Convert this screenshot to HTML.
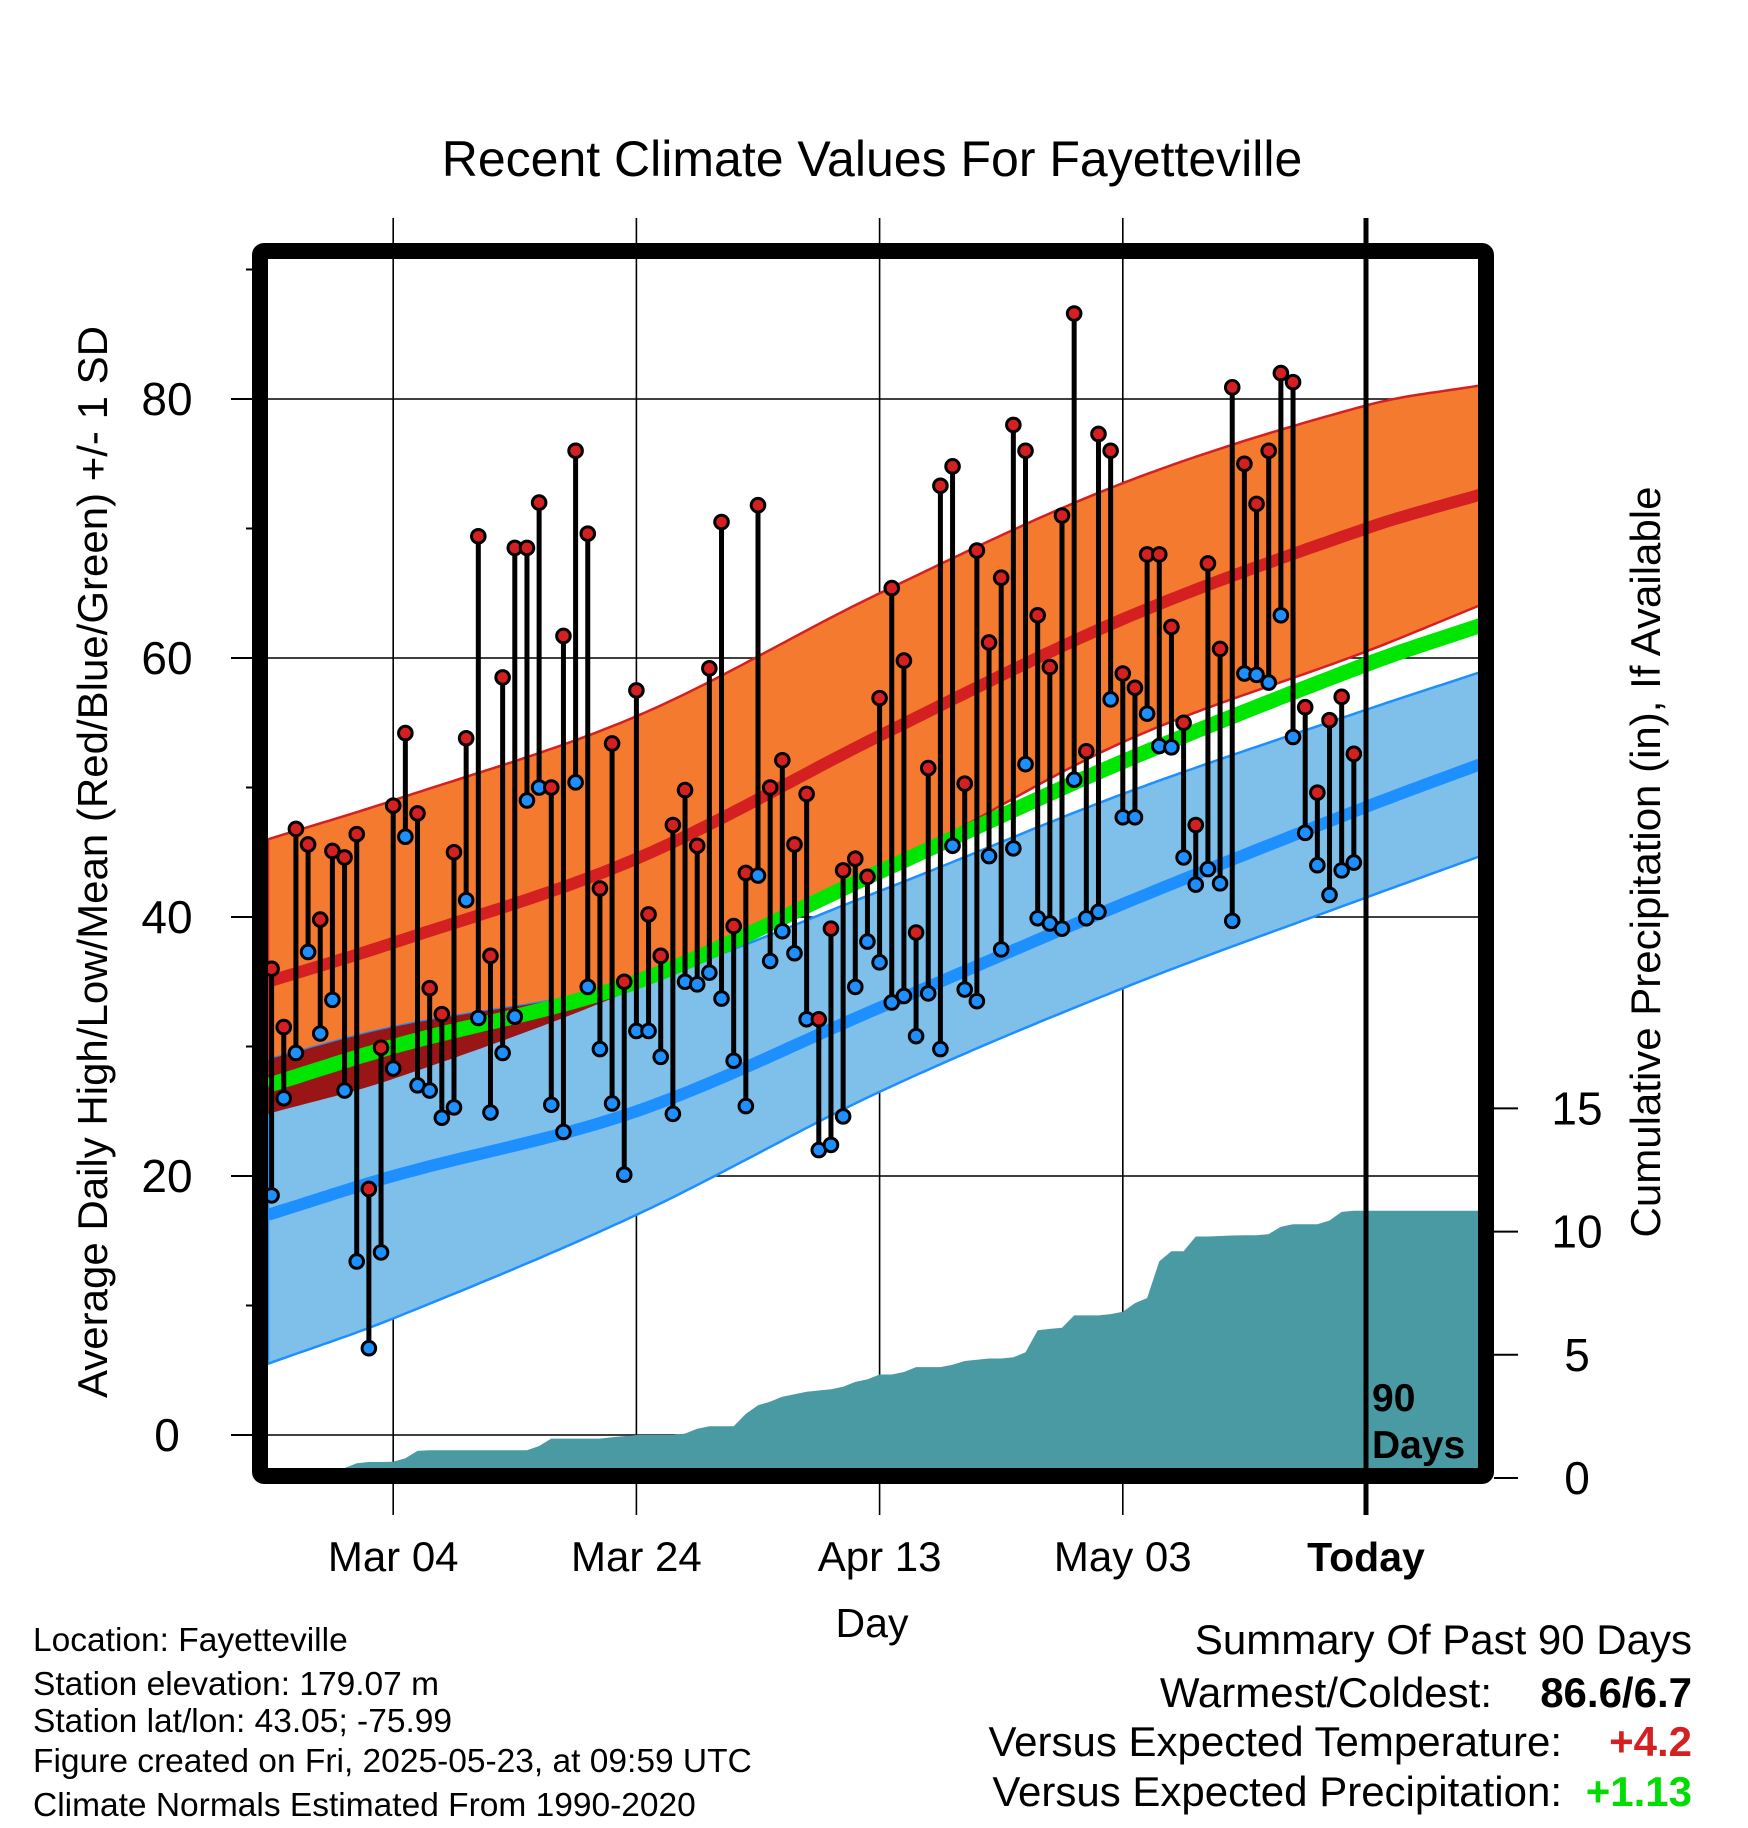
<!DOCTYPE html>
<html><head><meta charset="utf-8"><style>
html,body{margin:0;padding:0;background:#fff}
svg{display:block;font-family:"Liberation Sans",Arial,sans-serif}
</style></head><body>
<svg id="chart" width="1748" height="1828" viewBox="0 0 1748 1828" xmlns="http://www.w3.org/2000/svg">
<defs><clipPath id="plotclip"><rect x="268" y="259" width="1210" height="1209"/></clipPath></defs>
<text x="872" y="176" font-size="50" text-anchor="middle">Recent Climate Values For Fayetteville</text>
<g id="grid"></g>
<g id="bands" clip-path="url(#plotclip)"></g>
<g id="precip" clip-path="url(#plotclip)"></g>
<g id="lines" clip-path="url(#plotclip)"></g>
<g id="obs"></g>
<g id="axes"></g>
<text transform="translate(107,862) rotate(-90)" font-size="42" text-anchor="middle">Average Daily High/Low/Mean (Red/Blue/Green) +/- 1 SD</text>
<text transform="translate(1660,862) rotate(-90)" font-size="42" text-anchor="middle">Cumulative Precipitation (in), If Available</text>
<text x="872" y="1637" font-size="41" text-anchor="middle">Day</text>
<g font-size="33.5">
<text x="33" y="1651">Location: Fayetteville</text>
<text x="33" y="1695">Station elevation: 179.07 m</text>
<text x="33" y="1732">Station lat/lon: 43.05; -75.99</text>
<text x="33" y="1772">Figure created on Fri, 2025-05-23, at 09:59 UTC</text>
<text x="33" y="1816">Climate Normals Estimated From 1990-2020</text>
</g>
<g font-size="42">
<text x="1692" y="1654" text-anchor="end">Summary Of Past 90 Days</text>
<text x="1492" y="1707" text-anchor="end">Warmest/Coldest:</text>
<text x="1692" y="1707" text-anchor="end" font-weight="bold">86.6/6.7</text>
<text x="1562" y="1756" text-anchor="end">Versus Expected Temperature:</text>
<text x="1692" y="1756" text-anchor="end" font-weight="bold" fill="#d42020">+4.2</text>
<text x="1562" y="1806" text-anchor="end">Versus Expected Precipitation:</text>
<text x="1692" y="1806" text-anchor="end" font-weight="bold" fill="#00dd00">+1.13</text>
</g>
</svg>
<script>
const highs=[36,31.5,46.8,45.6,39.8,45.1,44.6,46.4,19,29.9,48.6,54.2,48,34.5,32.5,45,53.8,69.4,37,58.5,68.5,68.5,72,50,61.7,76,69.6,42.2,53.4,35,57.5,40.2,37,47.1,49.8,45.5,59.2,70.5,39.3,43.4,71.8,50,52.1,45.6,49.5,32.1,39.1,43.6,44.5,43.1,56.9,65.4,59.8,38.8,51.5,73.3,74.8,50.3,68.3,61.2,66.2,78,76,63.3,59.3,71,86.6,52.8,77.3,76,58.8,57.7,68,68,62.4,55,47.1,67.3,60.7,80.9,75,71.9,76,82,81.3,56.2,49.6,55.2,57,52.6];
const lows=[18.5,26,29.5,37.3,31,33.6,26.6,13.4,6.7,14.1,28.3,46.2,27,26.6,24.5,25.3,41.3,32.2,24.9,29.5,32.3,49,50,25.5,23.4,50.4,34.6,29.8,25.6,20.1,31.2,31.2,29.2,24.8,35,34.8,35.7,33.7,28.9,25.4,43.2,36.6,38.9,37.2,32.1,22,22.4,24.6,34.6,38.1,36.5,33.4,33.9,30.8,34.1,29.8,45.5,34.4,33.5,44.7,37.5,45.3,51.8,39.9,39.5,39.1,50.6,39.9,40.4,56.8,47.7,47.7,55.7,53.2,53.1,44.6,42.5,43.7,42.6,39.7,58.8,58.7,58.1,63.3,53.9,46.5,44,41.7,43.6,44.2];
const precipCum=[0,0,0,0,0,0.3,0.4,0.6,0.65,0.65,0.66,0.8,1.1,1.13,1.13,1.13,1.13,1.13,1.13,1.13,1.13,1.13,1.3,1.6,1.6,1.6,1.6,1.6,1.65,1.7,1.75,1.75,1.75,1.75,1.8,2.0,2.1,2.1,2.1,2.6,2.95,3.1,3.3,3.4,3.5,3.55,3.6,3.7,3.9,4.0,4.2,4.2,4.3,4.5,4.5,4.5,4.6,4.75,4.8,4.85,4.85,4.9,5.1,6.0,6.05,6.1,6.6,6.6,6.6,6.65,6.75,7.1,7.3,8.8,9.2,9.2,9.8,9.8,9.82,9.84,9.85,9.85,9.9,10.2,10.3,10.3,10.3,10.45,10.8,10.85];
const normDays=[-0.3,10,30,50,70,90,99.7];
const highMean=[35,38,44.5,54,63,70,72.7];
const highUpper=[46,49,55.5,65,73.5,79.5,81.1];
const highLower=[24.8,27.5,34.5,43.5,53.5,60.5,64.2];
const avgMean=[27,30,35,43.5,52,59.5,62.6];
const lowMean=[17,20,25,33,41,48.5,51.9];
const lowUpper=[29,31.5,35,42,49.5,56,59];
const lowLower=[5.5,9,17,26.5,34.5,41.5,44.8];
const tempTicks=[0,20,40,60,80];
const tempMinor=[10,30,50,70,90];
const precipTicks=[0,5,10,15];
const dateLabels=["Mar 04","Mar 24","Apr 13","May 03","Today"];
const dateDays=[10,30,50,70,90];

const NS="http://www.w3.org/2000/svg";
const xDay=d=>271.6+d*12.16;
const yT=t=>1435-t*12.95;
const yP=p=>1478-p*24.64;
function mk(tag,parent,attrs){const e=document.createElementNS(NS,tag);for(const k in attrs)e.setAttribute(k,attrs[k]);parent.appendChild(e);return e;}
function slope(arr,i){const n=arr.length;const a=Math.max(i-1,0),b=Math.min(i+1,n-1);return (arr[b]-arr[a])/(normDays[b]-normDays[a]);}
function interp(arr,d){ // cubic Hermite with non-uniform tangents
  let i=0;while(i<normDays.length-2&&d>normDays[i+1])i++;
  const h=normDays[i+1]-normDays[i];const t=(d-normDays[i])/h;
  const m0=slope(arr,i)*h,m1=slope(arr,i+1)*h;
  const t2=t*t,t3=t2*t;
  return (2*t3-3*t2+1)*arr[i]+(t3-2*t2+t)*m0+(-2*t3+3*t2)*arr[i+1]+(t3-t2)*m1;
}
const samp=[];for(let d=-0.3;d<=99.75;d+=0.5)samp.push(d);
function linePts(arr){return samp.map(d=>xDay(d).toFixed(1)+","+yT(interp(arr,d)).toFixed(1)).join(" ");}
function bandPts(fu,fl){const up=samp.map(d=>xDay(d).toFixed(1)+","+yT(fu(d)).toFixed(1));const lo=samp.slice().reverse().map(d=>xDay(d).toFixed(1)+","+yT(fl(d)).toFixed(1));return up.concat(lo).join(" ");}

const grid=document.getElementById('grid');
tempTicks.forEach(t=>{const l=mk('line',grid,{x1:231,x2:1478,y1:yT(t),y2:yT(t),stroke:'#000','stroke-width':1.6});

});
dateDays.forEach(d=>{const l=mk('line',grid,{x1:xDay(d),x2:xDay(d),y1:218,y2:1515,stroke:'#000','stroke-width':1.6});

});

const bands=document.getElementById('bands');
const ob=mk('polygon',bands,{points:bandPts(d=>interp(highUpper,d),d=>interp(highLower,d)),fill:'#f47a30',stroke:'#d42020','stroke-width':2.5});


const bb=mk('polygon',bands,{points:bandPts(d=>interp(lowUpper,d),d=>interp(lowLower,d)),fill:'#7fc0ea',stroke:'#1e8fff','stroke-width':2.5});


const ov=mk('polygon',bands,{points:bandPts(d=>Math.max(Math.min(interp(highUpper,d),interp(lowUpper,d)),interp(highLower,d)),d=>interp(highLower,d)),fill:'#9a1515'});



const pr=document.getElementById('precip');
let pp=[xDay(0)+","+yP(0)];
precipCum.forEach((v,i)=>pp.push(xDay(i).toFixed(1)+","+yP(v).toFixed(1)));
pp.push("1478,"+yP(precipCum[precipCum.length-1]).toFixed(1));pp.push("1478,"+yP(0));
const pa=mk('polygon',pr,{points:pp.join(" "),fill:'#4a9aa3'});



const lines=document.getElementById('lines');
[[highMean,'#d42020',12,'high-mean-line'],[lowMean,'#1e8fff',12,'low-mean-line'],[avgMean,'#00e600',15,'avg-mean-line']].forEach(a=>{
const l=mk('polyline',lines,{points:linePts(a[0]),fill:'none',stroke:a[1],'stroke-width':a[2]});

});

const obs=document.getElementById('obs');
highs.forEach((h,i)=>{const x=xDay(i);
const s=mk('line',obs,{x1:x,x2:x,y1:yT(h),y2:yT(lows[i]),stroke:'#000','stroke-width':5});


const c1=mk('circle',obs,{cx:x,cy:yT(h),r:6.8,fill:'#d42020',stroke:'#000','stroke-width':3});


const c2=mk('circle',obs,{cx:x,cy:yT(lows[i]),r:6.8,fill:'#1e8fff',stroke:'#000','stroke-width':3});

});

const ax=document.getElementById('axes');
const tl=mk('line',ax,{x1:xDay(90),x2:xDay(90),y1:218,y2:1515,stroke:'#000','stroke-width':5});


const fr=mk('rect',ax,{x:260,y:251,width:1226,height:1225,fill:'none',stroke:'#000','stroke-width':16,rx:4});


tempTicks.forEach(t=>{const l=mk('line',ax,{x1:231,x2:260,y1:yT(t),y2:yT(t),stroke:'#000','stroke-width':2});


const tx=mk('text',ax,{x:167,y:yT(t)+16,'font-size':46,'text-anchor':'middle'});tx.textContent=t;

});
tempMinor.forEach(t=>{const l=mk('line',ax,{x1:246,x2:260,y1:yT(t),y2:yT(t),stroke:'#000','stroke-width':2});

});
precipTicks.forEach(p=>{const l=mk('line',ax,{x1:1494,x2:1518,y1:yP(p),y2:yP(p),stroke:'#000','stroke-width':2});


const tx=mk('text',ax,{x:1577,y:yP(p)+16,'font-size':46,'text-anchor':'middle'});tx.textContent=p;

});
dateLabels.forEach((lab,i)=>{const tx=mk('text',ax,{x:xDay(dateDays[i]),y:1571,'font-size':lab==='Today'?41:42,'text-anchor':'middle','font-weight':lab==='Today'?'bold':'normal'});tx.textContent=lab;

});
const d1=mk('text',ax,{x:1372,y:1411,'font-size':39,'font-weight':'bold'});d1.textContent='90';


const d2=mk('text',ax,{x:1372,y:1458,'font-size':39,'font-weight':'bold'});d2.textContent='Days';


</script>
</body></html>
